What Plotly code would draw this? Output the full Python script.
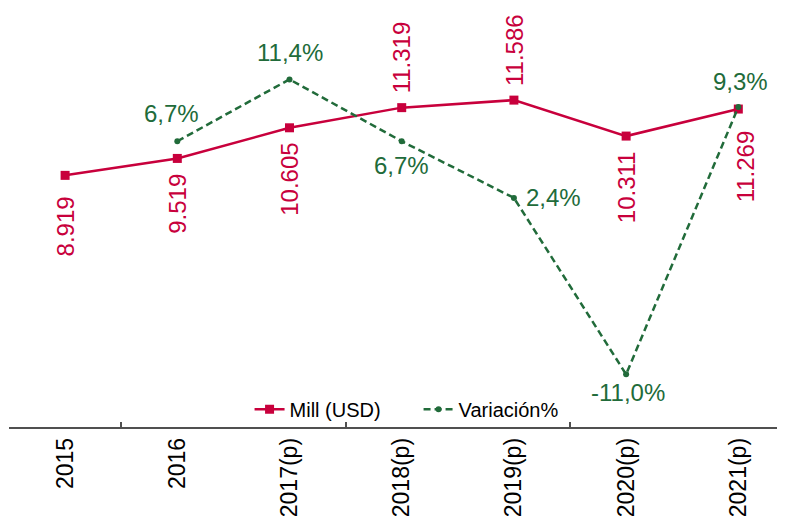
import plotly.graph_objects as go

years = ["2015", "2016", "2017(p)", "2018(p)", "2019(p)", "2020(p)", "2021(p)"]
mill_usd = [8919, 9519, 10605, 11319, 11586, 10311, 11269]
mill_labels = ["8.919", "9.519", "10.605", "11.319", "11.586", "10.311", "11.269"]
variacion = [None, 6.7, 11.4, 6.7, 2.4, -11.0, 9.3]
var_labels = ["", "6,7%", "11,4%", "6,7%", "2,4%", "-11,0%", "9,3%"]

RED = "#C8003C"
GREEN = "#216B3A"
FONT = "Liberation Sans, Arial, sans-serif"

xi = list(range(len(years)))

fig = go.Figure()
fig.add_trace(go.Scatter(
    x=xi, y=mill_usd, name="Mill (USD)", mode="lines+markers",
    line=dict(color=RED, width=2.5), marker=dict(symbol="square", size=9, color=RED),
    xaxis="x", yaxis="y"))
fig.add_trace(go.Scatter(
    x=xi, y=variacion, name="Variación%", mode="lines+markers",
    line=dict(color=GREEN, width=2.5, dash="7px,4px"), marker=dict(symbol="circle", size=6, color=GREEN),
    xaxis="x", yaxis="y2"))
# invisible helper trace for the boundary tick axis
fig.add_trace(go.Scatter(x=[0], y=[0], mode="markers", marker=dict(opacity=0), showlegend=False,
                         hoverinfo="skip", xaxis="x2", yaxis="y"))

# red labels: below except 2018, 2019 above
above = {3, 4}
for i, (v, t) in enumerate(zip(mill_usd, mill_labels)):
    if i in above:
        fig.add_annotation(x=i, y=v, xref="x", yref="y", text=t, textangle=-90, showarrow=False,
                           xanchor="center", yanchor="bottom", yshift=12,
                           font=dict(family=FONT, size=24, color=RED))
    else:
        gap = 19 if i in (0, 6) else 13
        xs = 7 if i == 6 else 0
        fig.add_annotation(x=i, y=v, xref="x", yref="y", text=t, textangle=-90, showarrow=False,
                           xanchor="center", yanchor="top", yshift=-gap, xshift=xs,
                           font=dict(family=FONT, size=24, color=RED))

# green labels
gpos = {1: (-6, 28), 2: (0, 27), 3: (0, -24), 4: (40, 0), 5: (2, -18), 6: (2, 26)}
for i, (v, t) in enumerate(zip(variacion, var_labels)):
    if v is None:
        continue
    dx, dy = gpos[i]
    fig.add_annotation(x=i, y=v, xref="x", yref="y2", text=t, showarrow=False,
                       xanchor="center", yanchor="middle", xshift=dx, yshift=dy,
                       font=dict(family=FONT, size=24, color=GREEN))

xr = [-0.5, 6.416]
fig.update_layout(
    width=777, height=513,
    margin=dict(l=1, r=0, t=24, b=94, autoexpand=False),
    paper_bgcolor="white", plot_bgcolor="white",
    font=dict(family=FONT, color="#000000"),
    showlegend=True,
    legend=dict(orientation="h", x=0.31, y=0.045, xanchor="left", yanchor="middle",
                font=dict(family=FONT, size=20, color="#000000"), bgcolor="rgba(0,0,0,0)",
                itemwidth=30, entrywidth=124, entrywidthmode="pixels"),
    xaxis=dict(range=xr, tickmode="array", tickvals=xi, ticktext=years, tickangle=-90,
               ticks="", showline=True, linecolor="#505050", linewidth=1.5,
               showgrid=False, zeroline=False, automargin=False,
               tickfont=dict(family=FONT, size=23, color="#000000")),
    xaxis2=dict(range=xr, overlaying="x", anchor="y", side="bottom", tickmode="array",
                tickvals=[0.5, 2.5, 4.5, 6.5], ticks="inside", ticklen=5, tickwidth=1.5,
                tickcolor="#505050", showticklabels=False, showline=False, showgrid=False,
                zeroline=False),
    yaxis=dict(range=[0, 14000], visible=False, showgrid=False, zeroline=False),
    yaxis2=dict(range=[-15, 15], overlaying="y", visible=False, showgrid=False, zeroline=False),
)

fig.write_html("out.html")
